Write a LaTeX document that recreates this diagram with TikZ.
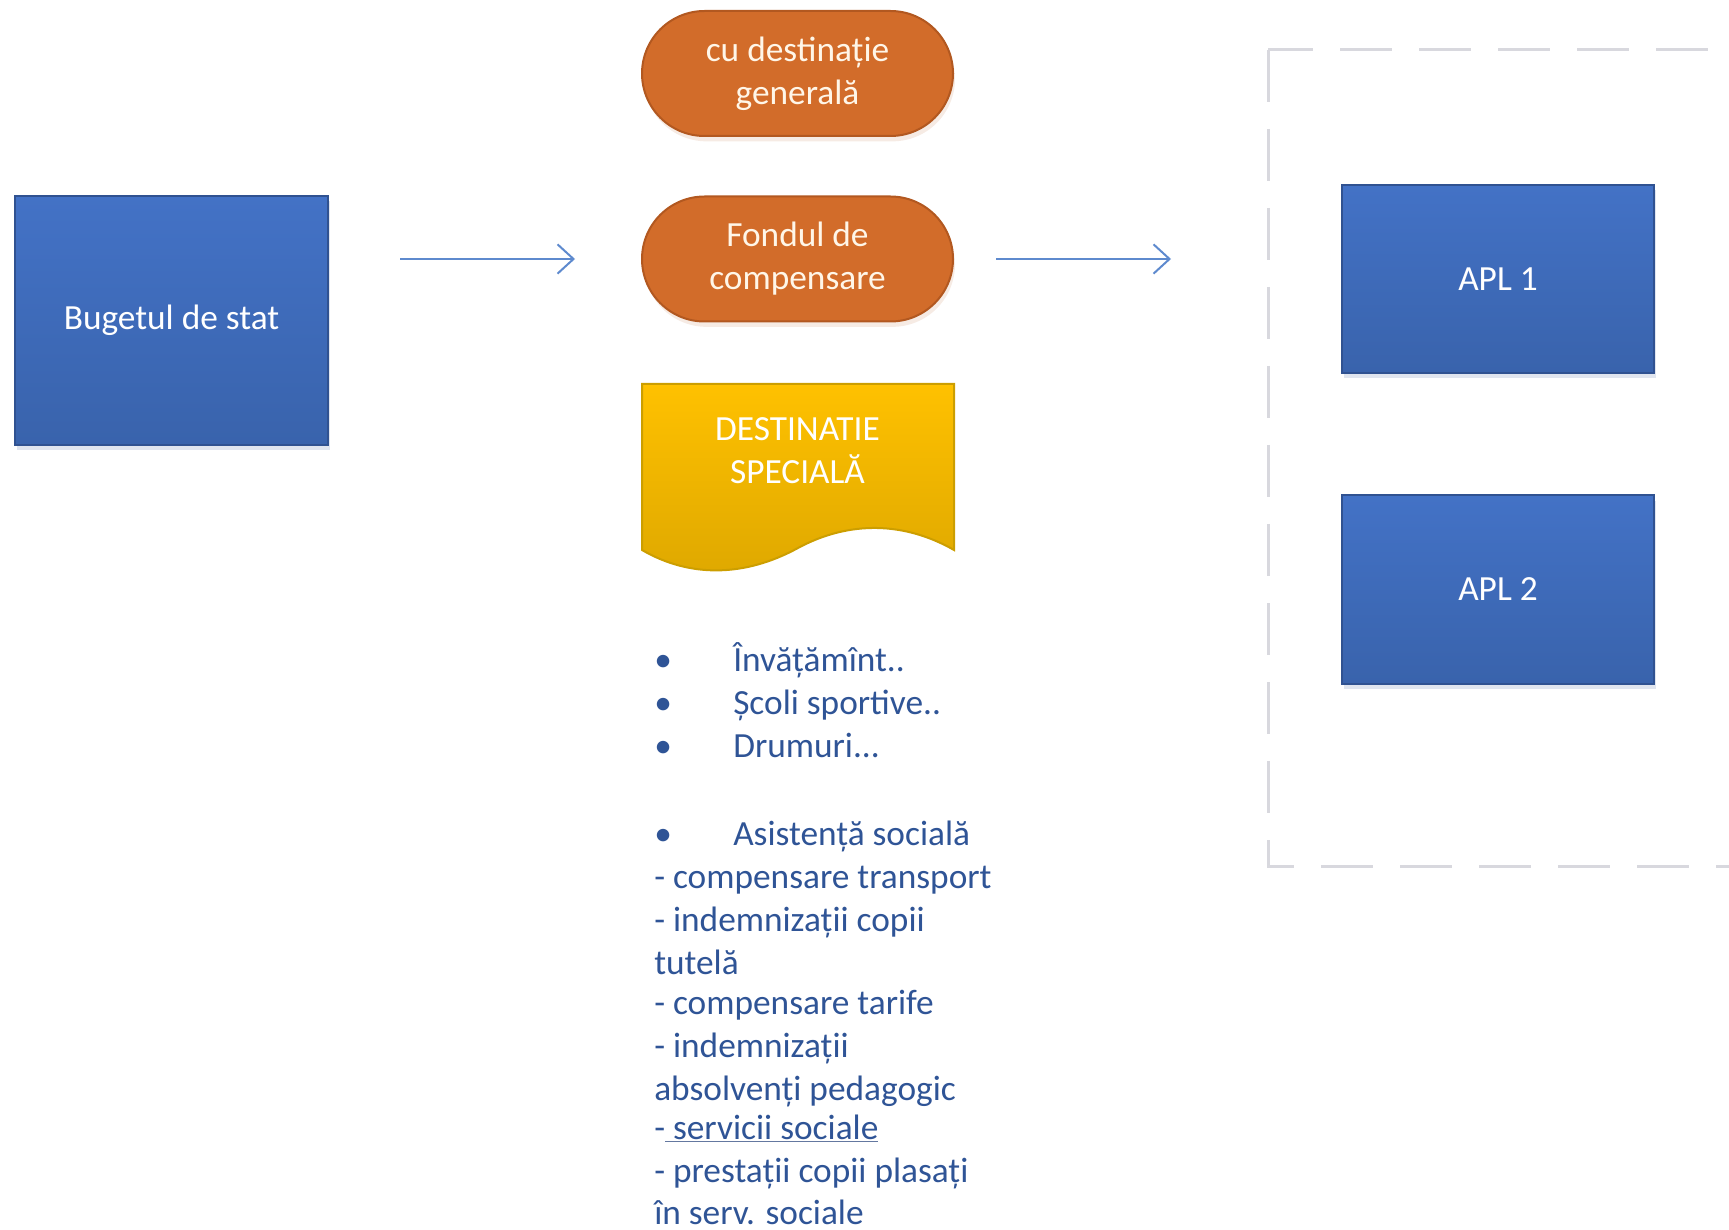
\documentclass[tikz,border=0pt]{standalone}
\usepackage{fontspec}
\setmainfont{Carlito}
\usetikzlibrary{arrows.meta,shadows}

\definecolor{bluetop}{RGB}{67,114,198}
\definecolor{bluebot}{RGB}{57,99,172}
\definecolor{blueedge}{RGB}{48,82,145}
\definecolor{orangefill}{RGB}{210,108,42}
\definecolor{orangeedge}{RGB}{178,88,32}
\definecolor{goldtop}{RGB}{255,193,0}
\definecolor{goldbot}{RGB}{222,168,0}
\definecolor{goldedge}{RGB}{204,158,0}
\definecolor{arrowblue}{RGB}{94,138,206}
\definecolor{listblue}{RGB}{47,84,150}
\definecolor{ulgray}{RGB}{100,120,160}
\definecolor{framegray}{RGB}{216,216,222}

\newcommand{\diagfont}{\fontsize{26.5}{32.25}\selectfont}

\tikzset{
  blueshape/.style={draw=blueedge, line width=1.5pt, top color=bluetop, bottom color=bluebot,
    text=white, font=\diagfont, align=center, inner sep=0pt,
    drop shadow={shadow xshift=1.5pt, shadow yshift=-4pt, opacity=0.15, fill=blueedge}},
  pillshape/.style={draw=orangeedge, line width=1.5pt, fill=orangefill, rounded corners=46.9pt,
    minimum width=233.25pt, minimum height=93.75pt, text={rgb,255:red,255;green,246;blue,232},
    font=\diagfont, align=center, inner sep=0pt,
    drop shadow={shadow xshift=1.5pt, shadow yshift=-4pt, opacity=0.12, fill=orangeedge}},
  flowarrow/.style={draw=arrowblue, line width=1.5pt, -{Straight Barb[length=12pt,width=22pt,line width=1.5pt]}},
  listtext/.style={text=listblue, font=\diagfont, inner sep=0pt},
  framedash/.style={framegray, line width=2.25pt, dash pattern=on 39pt off 20.25pt},
}

\begin{document}
\begin{tikzpicture}[x=0.75pt,y=0.75pt,yscale=-1,xscale=1]
\useasboundingbox (0,0) rectangle (1729,1230);
%Shape: Rectangle
\node[blueshape, minimum width=234.75pt, minimum height=186.75pt] (buget) at (171.5,320.5) {Bugetul de stat};
%Shape: Rounded Rect
\node[pillshape] (generala) at (797.5,73.5) {cu destinație\\generală};
\node[pillshape] (fond) at (797.5,259) {Fondul de\\compensare};
%Shape: Document
\path[draw=goldedge, line width=1.5pt, top color=goldtop, bottom color=goldbot]
  (642,384) -- (954,384) -- (954,550) .. controls (905,522) and (850,520) .. (798,548)
  .. controls (745,577) and (690,578) .. (642,550) -- cycle;
\node[font=\diagfont, text=white, align=center, inner sep=0pt] (speciala) at (797.5,451)
  {\fontsize{26.5}{30}\selectfont DESTINATIE\\SPECIALĂ};
%Shape: Rectangle
\node[blueshape, minimum width=234pt, minimum height=141pt] (apl1) at (1498,279) {APL 1};
\node[blueshape, minimum width=234pt, minimum height=141pt] (apl2) at (1498,589.5) {APL 2};
%Straight Lines
\draw[framedash, dash phase=5.25pt] (1268,50) -- (1729,50);
\draw[framedash] (1268,50) -- (1268,866) -- (1729,866);
%Straight Lines
\coordinate (instart) at (400,259);
\coordinate (inend) at (575,259);
\draw[flowarrow] (instart) -- (inend);
\coordinate (outstart) at (996,259);
\coordinate (outend) at (1171,259);
\draw[flowarrow] (outstart) -- (outend);
% Text Node
\foreach \yy/\txt [count=\i] in {671/{Învățămînt..}, 714/{Școli sportive..}, 757/{Drumuri...}, 845/{Asistență socială}} {
  \node[listtext, anchor=base west] (dot\i) at (654,\yy) {•};
  \node[listtext, anchor=base west] (item\i) at (733,\yy) {\txt};
}
% Text Node
\foreach \yy/\txt [count=\i] in {888/{- compensare transport}, 931/{- indemnizații copii}, 974/{tutelă},
    1014/{- compensare tarife}, 1057/{- indemnizații}, 1100/{absolvenți pedagogic},
    1139/{-{\color{ulgray}\underline{\textcolor{listblue}{\ servicii sociale}}}},
    1182/{- prestații copii plasați}, 1224/{în serv. sociale}} {
  \node[listtext, anchor=base west] (line\i) at (654,\yy) {\txt};
}

\end{tikzpicture}
\end{document}
